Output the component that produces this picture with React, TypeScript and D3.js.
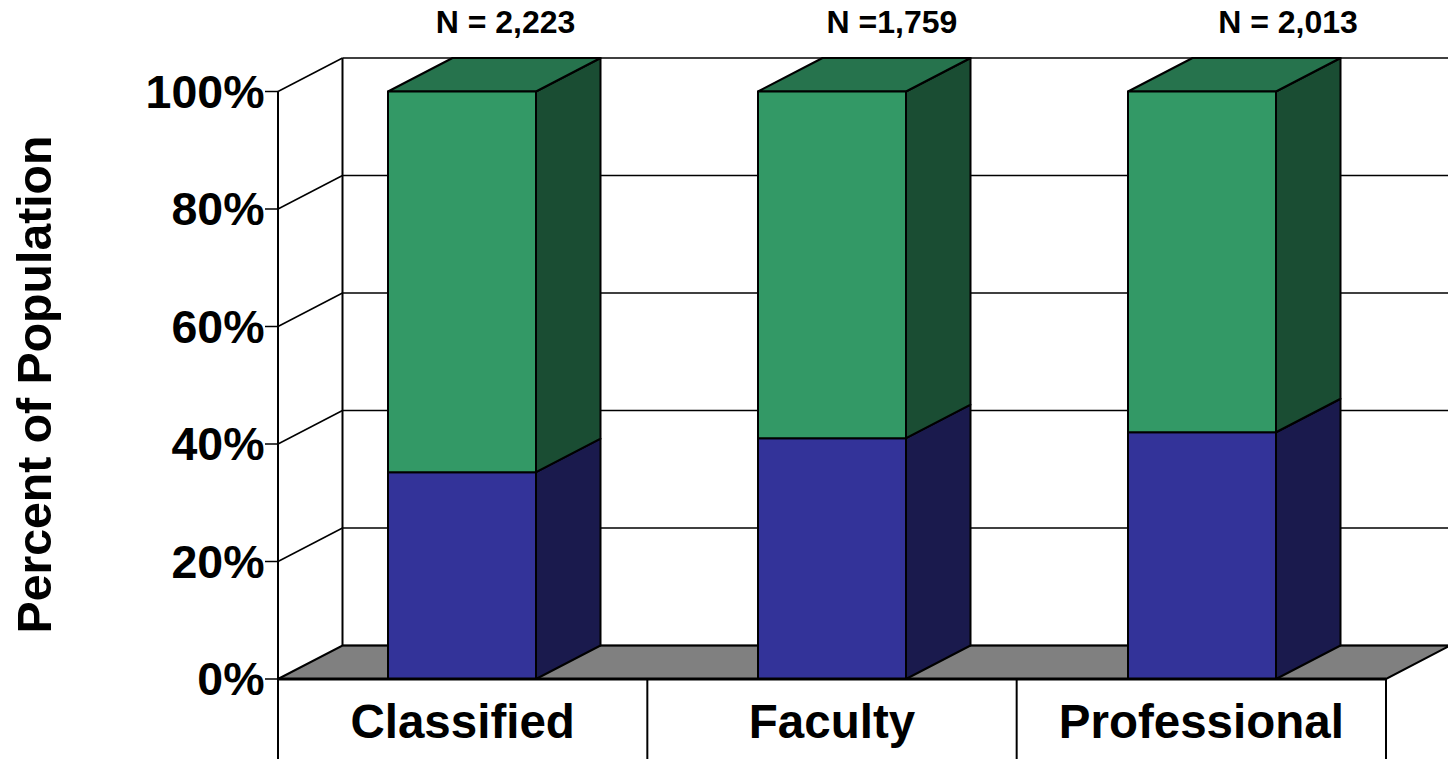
import React from 'react'
import * as d3 from 'd3'

const categories = ['Classified', 'Faculty', 'Professional']
const sampleLabels = ['N = 2,223', 'N =1,759', 'N = 2,013']
const lowerValues = [35.2, 41, 42]
const upperValues = [64.8, 59, 58]
const yTicks = [0, 20, 40, 60, 80, 100]

const width = 1448
const height = 759
const depthX = 64.5
const depthY = 33.5

const x = d3.scaleBand<string>().domain(categories).range([277, 1387]).paddingInner(0.6).paddingOuter(0.3)
const band = d3.scaleBand<string>().domain(categories).range([278, 1386])
const y = d3.scaleLinear().domain([0, 100]).range([679, 91.5])

// the N labels sit unevenly above the bars in the original
const sampleLabelX = [505.5, 892, 1288]

const line = d3.line()
const poly = (pts: [number, number][]) => line(pts) + 'Z'

const FONT = '"Liberation Sans", Arial, sans-serif'

// one extruded block: front face, side face and optional lid
function Block(props: { cat: string, from: number, to: number, front: string, side: string, top?: string }) {
	const { cat, from, to, front, side, top } = props
	const x0 = x(cat) as number
	const x1 = x0 + x.bandwidth()
	const y0 = y(from)
	const y1 = y(to)
	return (
		<g stroke="#000" strokeWidth={2} strokeLinejoin="round">
			<path d={poly([[x1, y0], [x1 + depthX, y0 - depthY], [x1 + depthX, y1 - depthY], [x1, y1]])} fill={side} />
			{top && <path d={poly([[x0, y1], [x0 + depthX, y1 - depthY], [x1 + depthX, y1 - depthY], [x1, y1]])} fill={top} />}
			<rect x={x0} y={y1} width={x1 - x0} height={y0 - y1} fill={front} />
		</g>
	)
}

export default function App() {
	return (
		<svg width={width} height={height} style={{ position: 'absolute', left: 0, top: 0, background: '#fff' }} fontFamily={FONT} fontWeight="bold">
			{/* floor */}
			<path
				d={poly([[278, y(0)], [278 + depthX, y(0) - depthY], [width + 2, y(0) - depthY], [1386, y(0)]])}
				fill="#808080"
				stroke="#000"
				strokeWidth={2}
			/>

			{/* walls and gridlines */}
			{yTicks.map(t => (
				<g key={t} stroke="#000" strokeWidth={1.5}>
					{t > 0 && <line x1={278} y1={y(t)} x2={278 + depthX} y2={y(t) - depthY} />}
					<line x1={278 + depthX} y1={y(t) - depthY} x2={width} y2={y(t) - depthY} />
					<line x1={265} y1={y(t)} x2={278} y2={y(t)} />
				</g>
			))}
			<line x1={278 + depthX} y1={y(100) - depthY} x2={278 + depthX} y2={y(0) - depthY} stroke="#000" strokeWidth={2} />
			<line x1={278} y1={y(100)} x2={278} y2={height} stroke="#000" strokeWidth={2} />

			{/* bars */}
			{categories.map((c, i) => (
				<g key={c}>
					<Block cat={c} from={0} to={lowerValues[i]} front="#333399" side="#1a1a4d" />
					<Block cat={c} from={lowerValues[i]} to={lowerValues[i] + upperValues[i]} front="#339966" side="#1a4d33" top="#26734d" />
				</g>
			))}

			{/* front baseline and category dividers */}
			<line x1={278} y1={y(0)} x2={1386} y2={y(0)} stroke="#000" strokeWidth={3} />
			{[...categories.map(c => band(c) as number), 1386].map(v => (
				<line key={v} x1={v} y1={y(0)} x2={v} y2={height} stroke="#000" strokeWidth={2} />
			))}

			{/* tick labels */}
			{yTicks.map(t => (
				<text key={t} x={264.5} y={y(t) + 16} textAnchor="end" fontSize={46.5}>{t}%</text>
			))}
			{categories.map(c => (
				<text key={c} x={(band(c) as number) + band.bandwidth() / 2} y={738} textAnchor="middle" fontSize={47.5}>{c}</text>
			))}
			{categories.map((c, i) => (
				<text key={c} x={sampleLabelX[i]} y={33} textAnchor="middle" fontSize={32}>{sampleLabels[i]}</text>
			))}

			<text transform="translate(51, 384.5) rotate(-90)" textAnchor="middle" fontSize={48.2}>Percent of Population</text>
		</svg>
	)
}
